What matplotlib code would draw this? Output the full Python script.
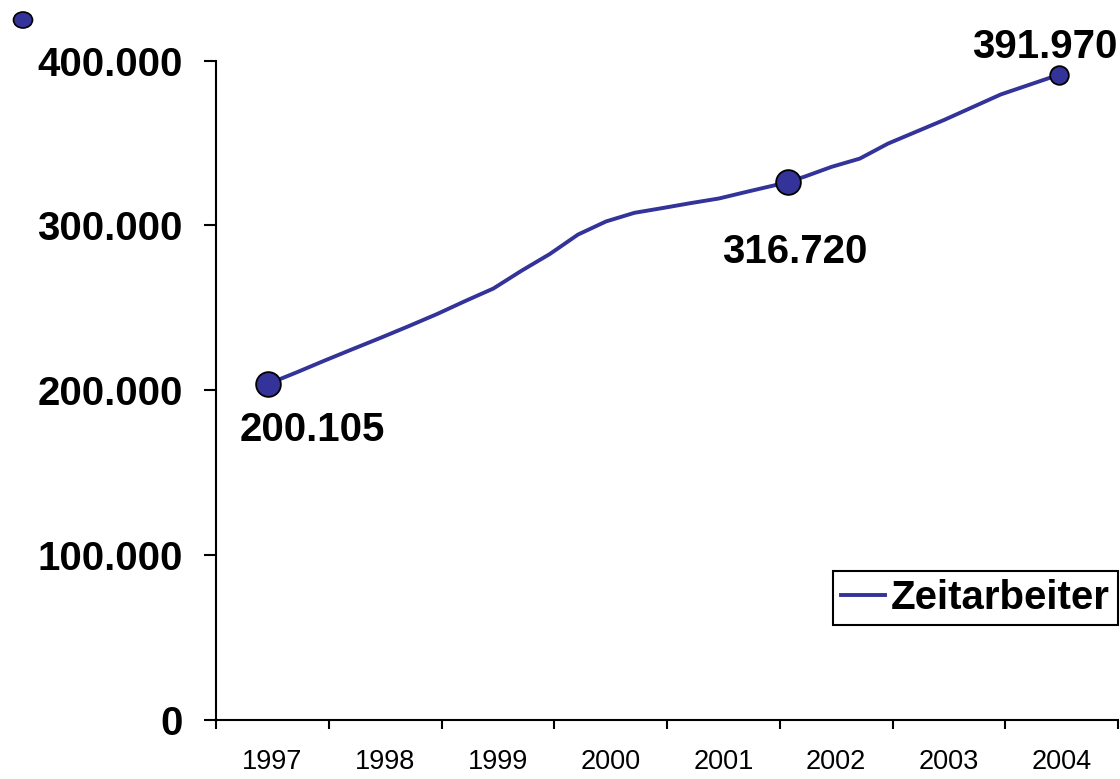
import matplotlib
matplotlib.use("Agg")
from matplotlib import pyplot as plt
from matplotlib.patches import Ellipse
import numpy as np

plt.rcParams['font.family'] = ['Liberation Sans', 'DejaVu Sans']

# quarterly values, first quarter 1997 .. first quarter 2004
years = ['1997', '1998', '1999', '2000', '2001', '2002', '2003', '2004']
zeitarbeiter = [203800, 210700, 217900, 224900, 231800, 238900, 246200, 254100,
                261700, 272500, 282600, 294400, 302400, 307600, 310500, 313500,
                316300, 320400, 324400, 329300, 335500, 340500, 349600, 356800,
                364000, 371700, 379400, 385200, 391000]
x_start = 0.46  # first point sits a little left of the 1997 category centre

# highlighted points and their text labels
marker_x = [0.461, 5.073, 7.477]
marker_y = [203800, 326300, 391200]
marker_size = [17.8, 17.8, 13.4]
label_text = ['200.105', '316.720', '391.970']
label_x = [0.85, 5.13, 7.35]
label_y = [176000, 284000, 408000]

navy = '#333399'

fig = plt.figure(figsize=(11.2, 7.79), dpi=100)
ax = fig.add_axes([216 / 1120, 59 / 779, 902 / 1120, 659.5 / 779])

xq = x_start + 0.25 * np.arange(len(zeitarbeiter))
ax.plot(xq, zeitarbeiter, color=navy, lw=2.8, label='Zeitarbeiter', zorder=3)

for mx, my, ms in zip(marker_x, marker_y, marker_size):
    ax.plot(mx, my, 'o', ms=ms, mfc=navy, mec='black', mew=1.3, zorder=4, clip_on=False)

for tx, ty, t in zip(label_x, label_y, label_text):
    ax.text(tx, ty, t, ha='center', va='center', fontsize=29, fontweight='bold', clip_on=False)

ax.set_xlim(0, 8)
ax.set_ylim(0, 400000)

ax.set_xticks(np.arange(0, 9))
ax.set_xticklabels([])
ax.set_xticks(np.arange(len(years)) + 0.5, minor=True)
ax.set_xticklabels(years, minor=True, fontsize=19.5)
ax.tick_params(axis='x', which='major', length=6.5, width=1.5, direction='out')
ax.tick_params(axis='x', which='minor', length=0, pad=21)

ytk = [0, 100000, 200000, 300000, 400000]
ax.set_yticks(ytk)
ax.set_yticklabels([f'{v:,}'.replace(',', '.') for v in ytk], fontsize=29, fontweight='bold')
ax.tick_params(axis='y', length=9, width=1.5, direction='out', pad=15)

for side in ['top', 'right']:
    ax.spines[side].set_visible(False)
for side in ['left', 'bottom']:
    ax.spines[side].set_linewidth(1.5)

leg = ax.legend(loc='lower right', bbox_to_anchor=(1.0, 0.144), borderaxespad=0,
                fancybox=False, framealpha=1, edgecolor='black',
                prop={'size': 29, 'weight': 'bold'},
                handlelength=1.1, handletextpad=0.15, borderpad=0.2)
leg.get_frame().set_linewidth(1.5)

# stray marker in the top left corner
fig.add_artist(Ellipse((23 / 1120, 1 - 20 / 779), width=19 / 1120, height=16 / 779,
                       transform=fig.transFigure, facecolor=navy, edgecolor='black', lw=1.2))

fig.savefig('out.png', dpi=100)
